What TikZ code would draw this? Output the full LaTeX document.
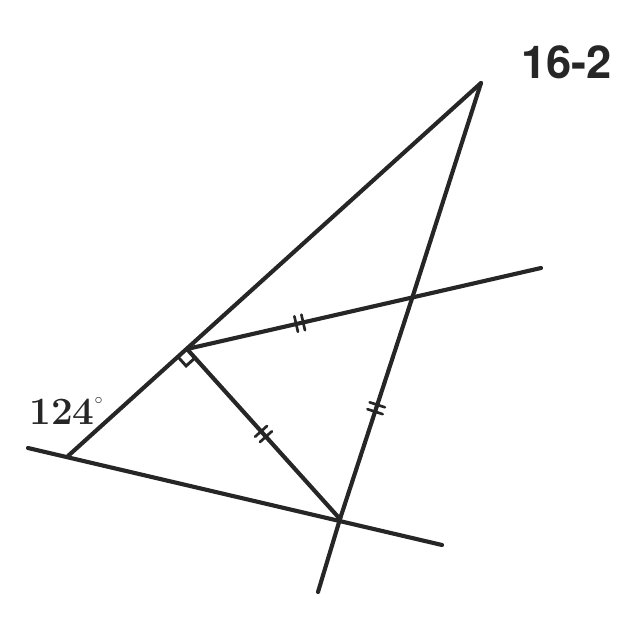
\documentclass[tikz,border=0pt]{standalone}
\usepackage{fontspec}
\newfontfamily\labelsans{TeX Gyre Heros}
\usetikzlibrary{calc,decorations.markings}
\tikzset{
  geo/.style={line width=3.1pt, line cap=round, black!85},
  dtick/.style={postaction={decorate}, decoration={markings, mark=at position #1 with {
     \draw[line width=2pt, black!85] (-2.7pt,-6pt)--(-2.7pt,6pt);
     \draw[line width=2pt, black!85] (2.7pt,-6pt)--(2.7pt,6pt);}}},
}
\begin{document}
\begin{tikzpicture}[x=0.75pt,y=-0.75pt]
\path[use as bounding box] (0,0) rectangle (621,628);
\coordinate (A) at (481,83);
\coordinate (B) at (68,456);
\coordinate (P) at (187,349);
\coordinate (Q) at (340,519);
\coordinate (L1) at (28,448);
\coordinate (L2) at (442,545);
\coordinate (T) at (318,592);
\coordinate (R) at (541,268);
\coordinate (X) at (intersection of P--R and A--T);
% triangle sides
\draw[geo] (A) -- (B);
\draw[geo] (L1) -- (L2);
\draw[geo] (A) -- (X);
\draw[geo, dtick=0.5] (X) -- (Q);
\draw[geo] (Q) -- (T);
\draw[geo, dtick=0.5] (P) -- (X);
\draw[geo] (X) -- (R);
\draw[geo, dtick=0.5] (P) -- (Q);
% right angle mark
\draw[line width=2.2pt, black!85] ($(P)!9pt!(B)$) -- ($($(P)!9pt!(B)$)+($(P)!9pt!(Q)$)-(P)$) -- ($(P)!9pt!(Q)$);
% labels
\node[font=\bfseries\fontsize{29}{29}\selectfont, anchor=base west, inner sep=0pt, black!85] (ang) at (29,424) {124\raisebox{0.5em}{\fontsize{13}{13}\selectfont$\circ$}};
\node[font=\labelsans\bfseries\fontsize{34}{34}\selectfont, anchor=base west, inner sep=0pt, black!85] (num) at (521,78) {16-2};
\end{tikzpicture}
\end{document}
